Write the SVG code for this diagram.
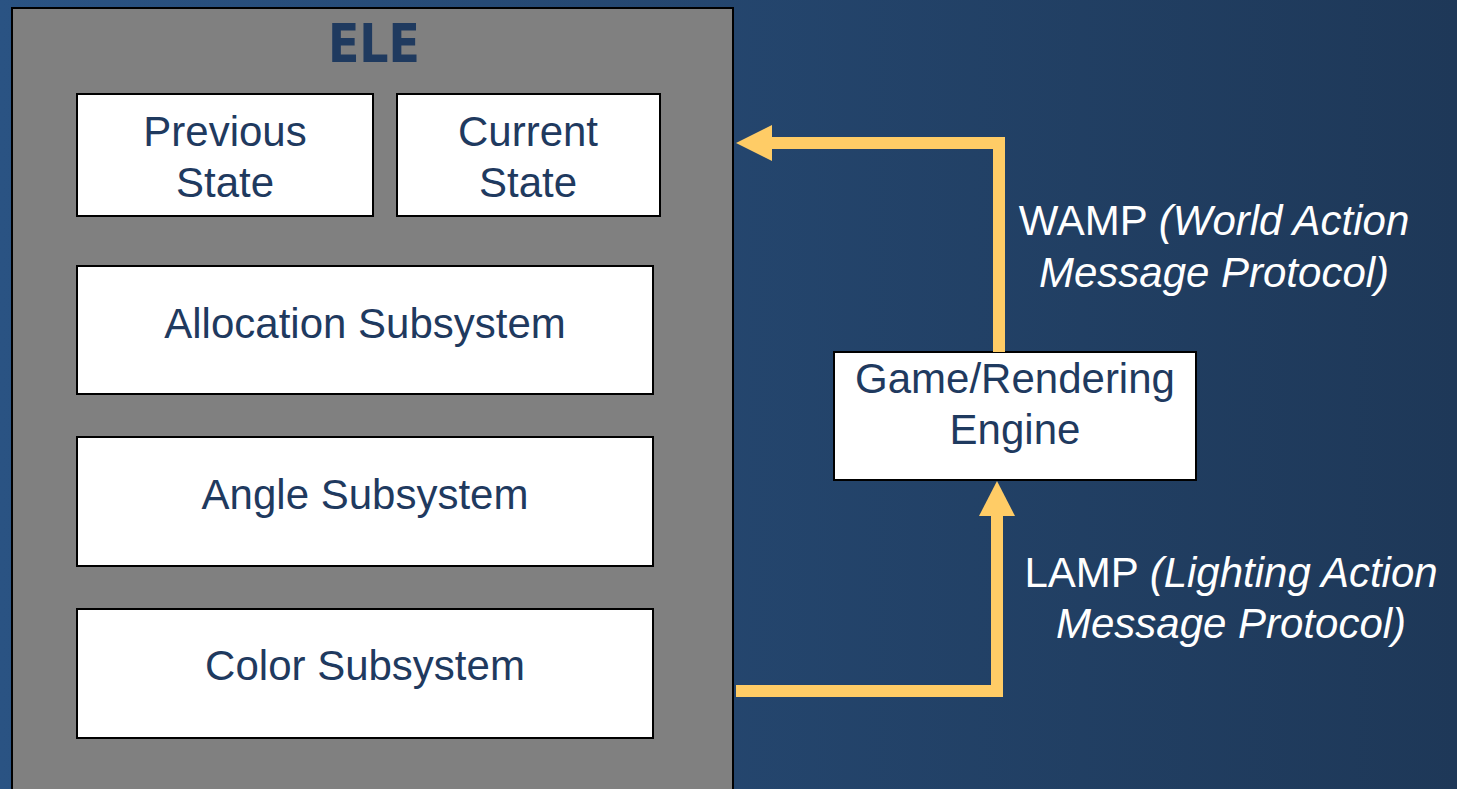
<svg xmlns="http://www.w3.org/2000/svg" width="1457" height="789" viewBox="0 0 1457 789">
  <defs>
    <linearGradient id="bg" x1="0" y1="0" x2="1" y2="0">
      <stop offset="0" stop-color="#2a5383"/>
      <stop offset="1" stop-color="#1e3858"/>
    </linearGradient>
    <style>
      .box { fill: #ffffff; stroke: #000000; stroke-width: 2; }
      .lbl { font-family: "Liberation Sans", Arial, sans-serif; font-size: 42px; fill: #1f3a5f; text-anchor: middle; }
      .note { font-family: "Liberation Sans", Arial, sans-serif; font-size: 42px; fill: #ffffff; text-anchor: middle; }
      .it { font-style: italic; }
      .wire { fill: none; stroke: #ffcc66; stroke-width: 12; stroke-linejoin: miter; }
      .head { fill: #ffcc66; }
    </style>
  </defs>

  <rect x="0" y="0" width="1457" height="789" fill="url(#bg)"/>

  <!-- ELE container -->
  <g id="ele">
    <rect x="12" y="8" width="721" height="800" fill="#808080" stroke="#000000" stroke-width="2"/>
    <text x="374" y="62" font-family="'DejaVu Sans Condensed', 'DejaVu Sans', sans-serif" font-weight="bold" font-size="54" fill="#1f3a5f" text-anchor="middle" textLength="92" lengthAdjust="spacingAndGlyphs">ELE</text>
  </g>

  <g id="previous-state">
    <rect class="box" x="77" y="94" width="296" height="122"/>
    <text class="lbl" x="225" y="146">Previous</text>
    <text class="lbl" x="225" y="197">State</text>
  </g>

  <g id="current-state">
    <rect class="box" x="397" y="94" width="263" height="122"/>
    <text class="lbl" x="528" y="146">Current</text>
    <text class="lbl" x="528" y="197">State</text>
  </g>

  <g id="allocation-subsystem">
    <rect class="box" x="77" y="266" width="576" height="128"/>
    <text class="lbl" x="365" y="338">Allocation Subsystem</text>
  </g>

  <g id="angle-subsystem">
    <rect class="box" x="77" y="437" width="576" height="129"/>
    <text class="lbl" x="365" y="509">Angle Subsystem</text>
  </g>

  <g id="color-subsystem">
    <rect class="box" x="77" y="609" width="576" height="129"/>
    <text class="lbl" x="365" y="680">Color Subsystem</text>
  </g>

  <g id="engine">
    <rect class="box" x="834" y="352" width="362" height="128"/>
    <text class="lbl" x="1015" y="393">Game/Rendering</text>
    <text class="lbl" x="1015" y="444">Engine</text>
  </g>

  <!-- connectors -->
  <g id="connectors">
    <!-- WAMP: engine up and back into ELE -->
    <polyline class="wire" points="999,352 999,143 770,143"/>
    <polygon class="head" points="736,143 772,125 772,161"/>
    <!-- LAMP: ELE out and up into engine -->
    <polyline class="wire" points="736,691 997,691 997,514"/>
    <polygon class="head" points="997,481 979,516 1015,516"/>
  </g>

  <g id="labels">
    <text class="note" x="1214" y="235">WAMP <tspan class="it">(World Action</tspan></text>
    <text class="note it" x="1214" y="287">Message Protocol)</text>
    <text class="note" x="1231" y="587">LAMP <tspan class="it">(Lighting Action</tspan></text>
    <text class="note it" x="1231" y="638">Message Protocol)</text>
  </g>
</svg>
